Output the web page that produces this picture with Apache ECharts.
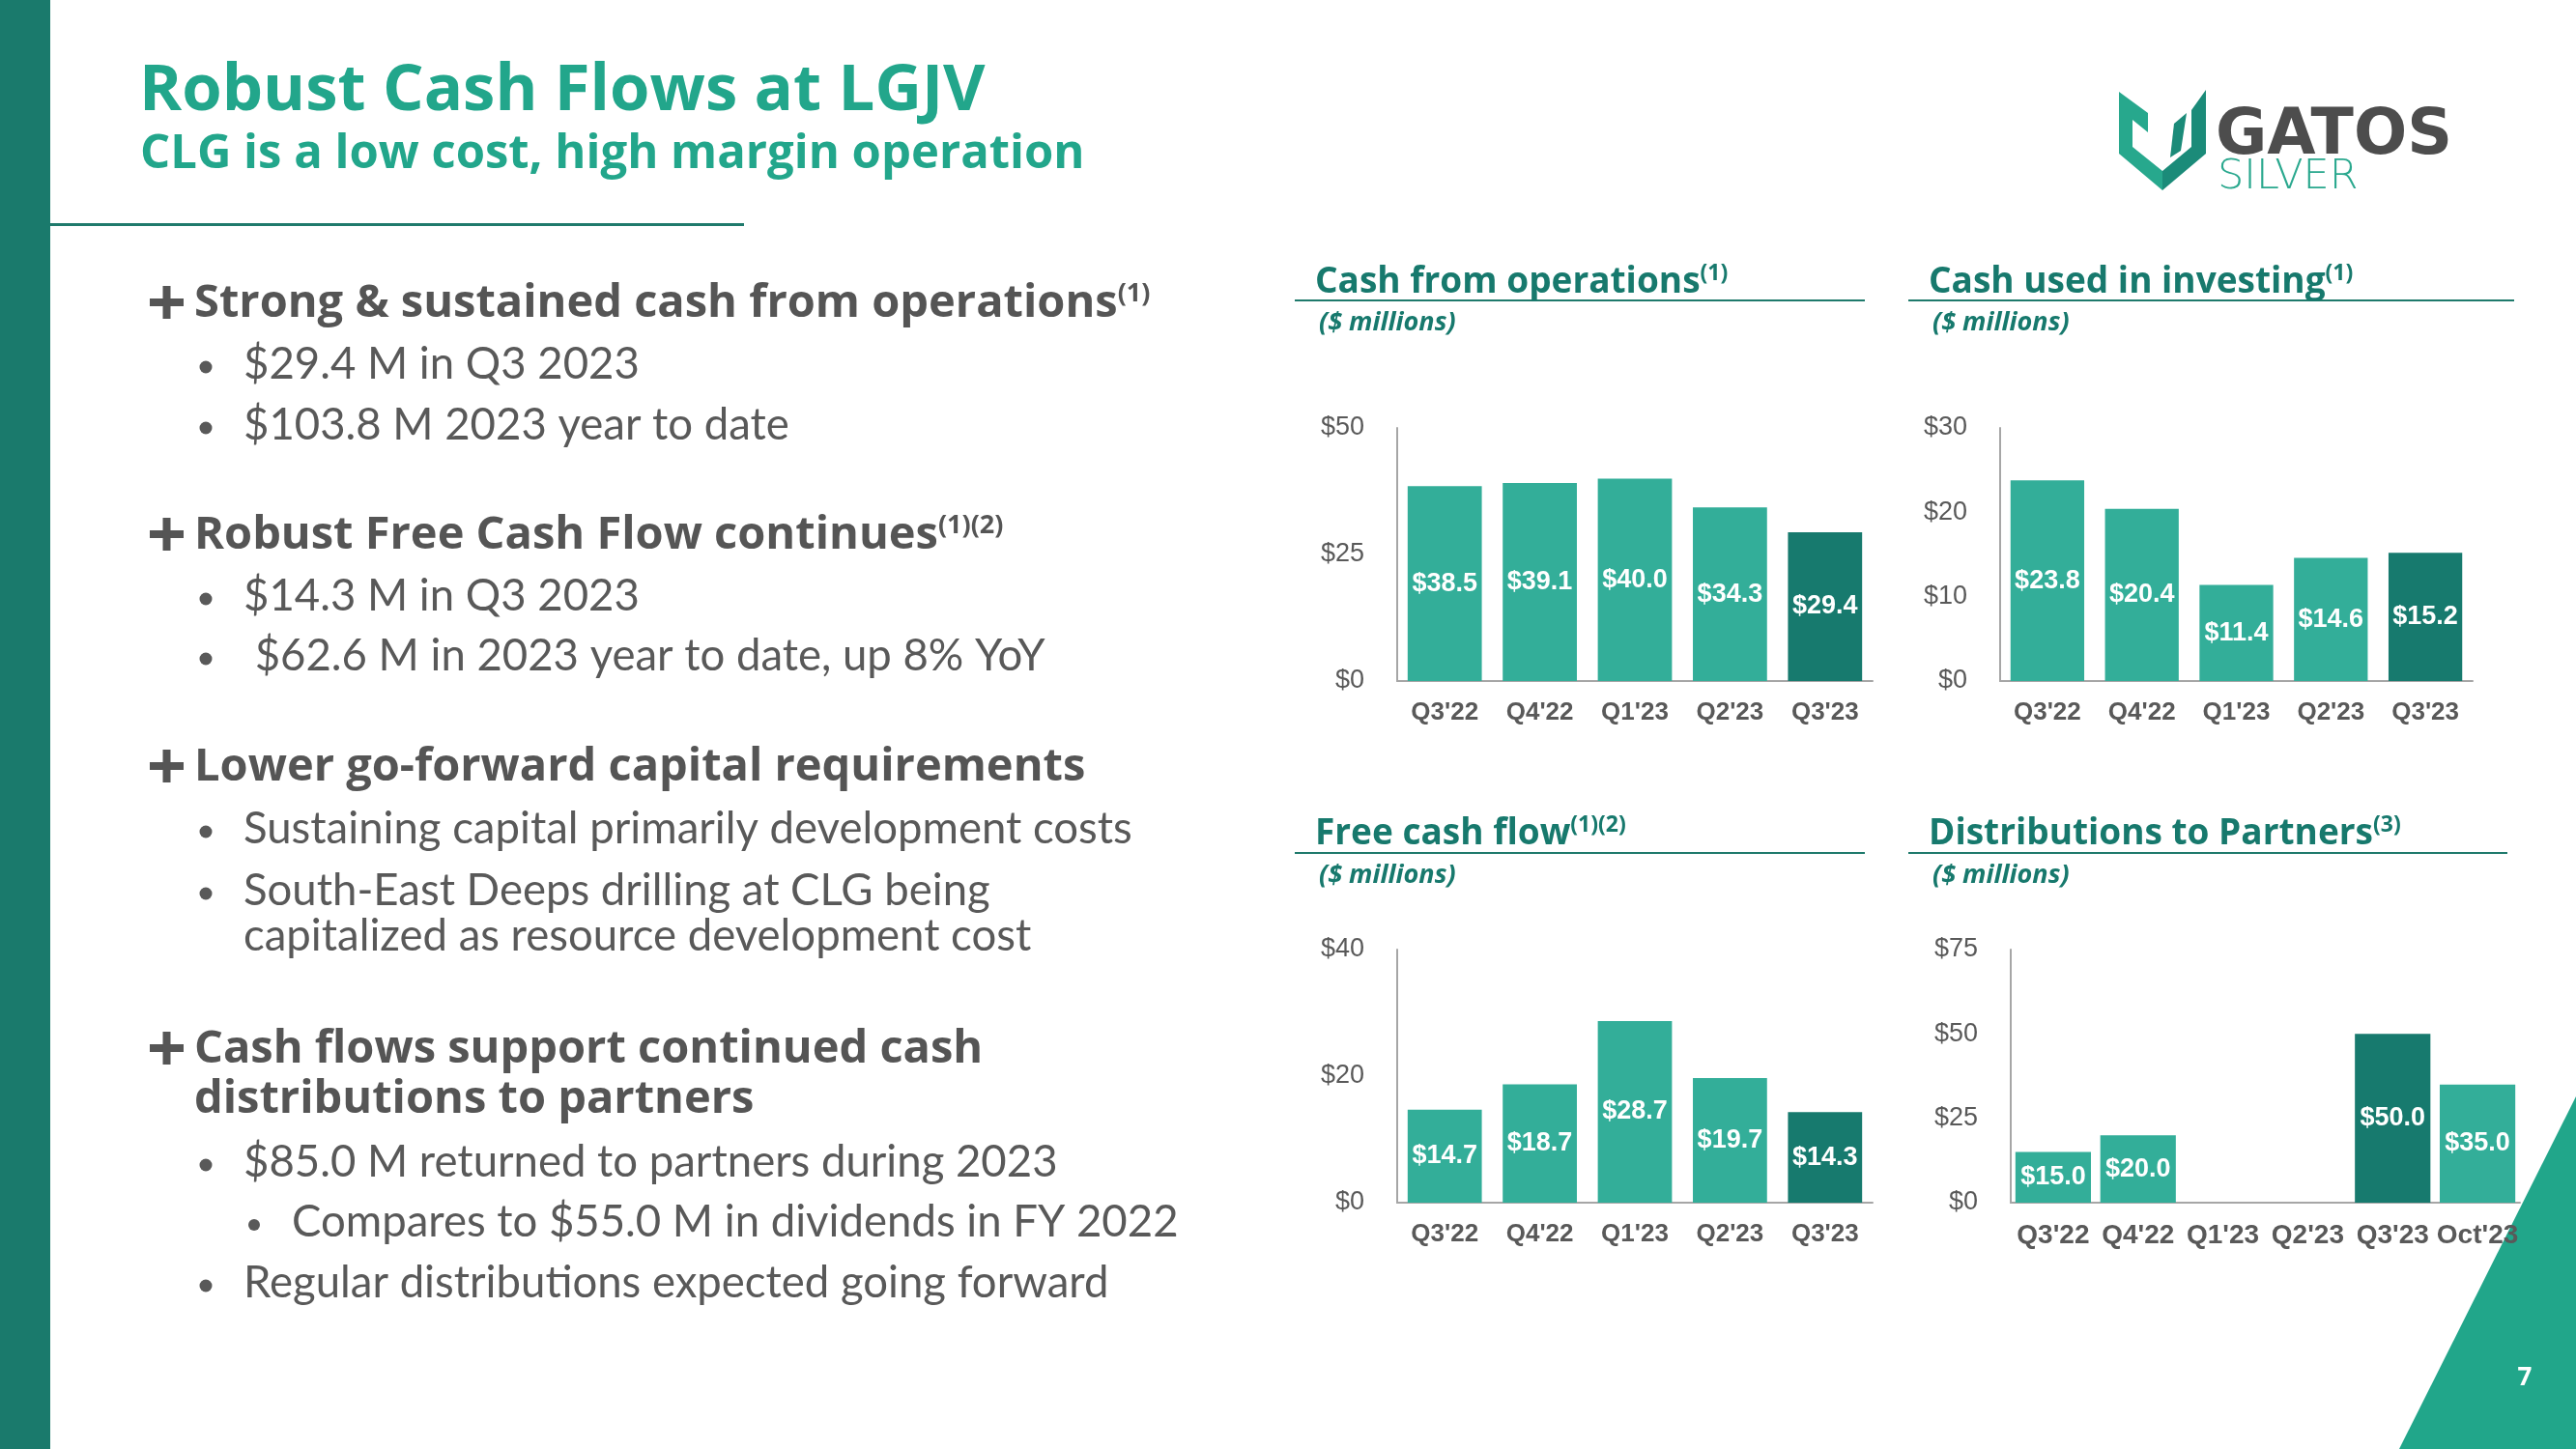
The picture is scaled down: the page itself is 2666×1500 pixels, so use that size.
<!DOCTYPE html>
<html><head><meta charset="utf-8">
<script src="https://cdn.jsdelivr.net/npm/echarts@6/dist/echarts.min.js"></script>
<style>html,body{margin:0;padding:0;background:#fff}#c{width:2666px;height:1500px}</style>
</head><body><div id="c"></div>
<script>
// ---------- DATA ----------
const quarters = ["Q3'22", "Q4'22", "Q1'23", "Q2'23", "Q3'23"];
const distCategories = ["Q3'22", "Q4'22", "Q1'23", "Q2'23", "Q3'23", "Oct'23"];
const cashFromOps = [38.5, 39.1, 40.0, 34.3, 29.4];
const cashUsedInvesting = [23.8, 20.4, 11.4, 14.6, 15.2];
const freeCashFlow = [14.7, 18.7, 28.7, 19.7, 14.3];
const distributionsToPartners = [15.0, 20.0, 0, 0, 50.0, 35.0];
const opsTicks = [0, 25, 50];
const investingTicks = [0, 10, 20, 30];
const fcfTicks = [0, 20, 40];
const distTicks = [0, 25, 50, 75];
const highlightCategory = "Q3'23";

const chartTitles = [
  ["Cash from operations", "(1)"],
  ["Cash used in investing", "(1)"],
  ["Free cash flow", "(1)(2)"],
  ["Distributions to Partners", "(3)"]
];
const unitsLabel = "($ millions)";
const slideTitle = "Robust Cash Flows at LGJV";
const slideSubtitle = "CLG is a low cost, high margin operation";
const bulletLines = [
  ["h", "Strong & sustained cash from operations", "(1)"],
  ["b", "$29.4 M in Q3 2023"],
  ["b", "$103.8 M 2023 year to date"],
  ["h", "Robust Free Cash Flow continues", "(1)(2)"],
  ["b", "$14.3 M in Q3 2023"],
  ["b", " $62.6 M in 2023 year to date, up 8% YoY"],
  ["h", "Lower go-forward capital requirements"],
  ["b", "Sustaining capital primarily development costs"],
  ["b", "South-East Deeps drilling at CLG being"],
  ["c", "capitalized as resource development cost"],
  ["h", "Cash flows support continued cash"],
  ["hc", "distributions to partners"],
  ["b", "$85.0 M returned to partners during 2023"],
  ["bb", "Compares to $55.0 M in dividends in FY 2022"],
  ["b", "Regular distributions expected going forward"]
];
const pageNumber = "7";

// ---------- LAYOUT / STYLE ----------
const LIGHT = '#33ae99', DARK = '#177a6e', TITLE_TEAL = '#22a68b', HEAD_TEAL = '#17796d';
const GREY = '#595959';
const panels = [
  { cats: quarters, values: cashFromOps, ticks: opsTicks, bw: '78%', xfs: 26 },
  { cats: quarters, values: cashUsedInvesting, ticks: investingTicks, bw: '78%', xfs: 26 },
  { cats: quarters, values: freeCashFlow, ticks: fcfTicks, bw: '78%', xfs: 26 },
  { cats: distCategories, values: distributionsToPartners, ticks: distTicks, bw: '89%', xfs: 28 }
];
const grids = [
  { left: 1446, top: 443, width: 492, height: 262 },
  { left: 2070, top: 443, width: 489, height: 262 },
  { left: 1446, top: 983, width: 492, height: 262 },
  { left: 2081, top: 983, width: 527, height: 262 }
];
const titlePos = [
  { x: 1361, y: 292, lineX: 1340, lineW: 590, lineY: 310, unitY: 334 },
  { x: 1996, y: 292, lineX: 1975, lineW: 627, lineY: 310, unitY: 334 },
  { x: 1361, y: 863, lineX: 1340, lineW: 590, lineY: 882, unitY: 906 },
  { x: 1996, y: 863, lineX: 1975, lineW: 620, lineY: 882, unitY: 906 }
];
const lineY = [315, 377, 440, 555, 617, 679, 795, 858, 922, 969, 1087, 1139, 1203, 1265, 1328];

const FONT = 'Lato, "Noto Sans", sans-serif';
const HFONT = '"Open Sans", "Noto Sans", sans-serif';
const els = [];
function T(x, y, text, font, fill, extra) {
  return Object.assign({ type: 'text', x: x, y: y, z: 10,
    style: { text: text, font: font, fill: fill, align: 'left', verticalAlign: 'middle', textAlign: 'left', textVerticalAlign: 'middle' } }, extra || {});
}
// left bar
els.push({ type: 'rect', z: 1, shape: { x: 0, y: 0, width: 52, height: 1500 }, style: { fill: '#1a7a6c' } });
// title
els.push(T(144, 95, slideTitle, 'bold 67px ' + HFONT, TITLE_TEAL));
els.push(T(145, 160, slideSubtitle, 'bold 49px ' + HFONT, TITLE_TEAL));
els.push({ type: 'rect', z: 1, shape: { x: 52, y: 231, width: 718, height: 3 }, style: { fill: '#1f7a6c' } });
// logo
els.push({ type: 'polygon', z: 5, shape: { points: [[2193,95],[2223,117],[2223,137],[2207,124],[2207,152],[2238,177],[2238,197],[2193,159]] }, style: { fill: '#27a88d' } });
els.push({ type: 'polygon', z: 5, shape: { points: [[2283,93],[2283,159],[2238,197],[2238,177],[2268,152],[2268,114]] }, style: { fill: '#1b8b79' } });
els.push({ type: 'polygon', z: 5, shape: { points: [[2263,117],[2250,128],[2246,163],[2257,156]] }, style: { fill: '#1b8b79' } });
els.push(T(2293, 142, 'GATOS', 'bold 65px "DejaVu Sans"', '#4d4d4d'));
els.push(T(2295, 184, 'SILVER', '200 43px "DejaVu Sans"', '#2aa88e'));

// bullets
bulletLines.forEach(function (ln, i) {
  const y = lineY[i], kind = ln[0];
  if (kind === 'h' || kind === 'hc') {
    if (kind === 'h') {
      els.push({ type: 'rect', z: 5, shape: { x: 155, y: y - 6, width: 35, height: 8 }, style: { fill: '#555' } });
      els.push({ type: 'rect', z: 5, shape: { x: 168.5, y: y - 19, width: 8, height: 34 }, style: { fill: '#555' } });
    }
    if (ln[2]) {
      els.push({ type: 'text', x: 201, y: y, z: 10, style: {
        text: '{a|' + ln[1] + '}{s|' + ln[2] + '}', align: 'left', verticalAlign: 'middle',
        rich: { a: { fontFamily: HFONT, fontWeight: 'bold', fontSize: 47, lineHeight: 49, fill: '#555', verticalAlign: 'middle' },
                s: { fontFamily: HFONT, fontWeight: 'bold', fontSize: 27, lineHeight: 27, fill: '#555', verticalAlign: 'top' } } } });
    } else {
      els.push(T(201, y, ln[1], 'bold 47px ' + HFONT, '#555'));
    }
  } else if (kind === 'b' || kind === 'c') {
    if (kind === 'b') els.push({ type: 'circle', z: 5, shape: { cx: 213, cy: y + 3, r: 6.5 }, style: { fill: GREY } });
    els.push(T(252, y, ln[1], '45.5px ' + FONT, GREY));
  } else if (kind === 'bb') {
    els.push({ type: 'circle', z: 5, shape: { cx: 263, cy: y + 3, r: 6 }, style: { fill: GREY } });
    els.push(T(302, y, ln[1], '45.5px ' + FONT, GREY));
  }
});

// chart headers
chartTitles.forEach(function (t, i) {
  const p = titlePos[i];
  els.push({ type: 'text', x: p.x, y: p.y, z: 10, style: {
    text: '{a|' + t[0] + '}{s|' + t[1] + '}', align: 'left', verticalAlign: 'middle',
    rich: { a: { fontFamily: HFONT, fontWeight: 'bold', fontSize: 37, lineHeight: 40, fill: HEAD_TEAL, verticalAlign: 'middle' },
            s: { fontFamily: HFONT, fontWeight: 'bold', fontSize: 23, lineHeight: 23, fill: HEAD_TEAL, verticalAlign: 'top' } } } });
  els.push({ type: 'rect', z: 5, shape: { x: p.lineX, y: p.lineY, width: p.lineW, height: 2 }, style: { fill: '#1f7a6c' } });
  els.push(T(p.x + 4, p.unitY, unitsLabel, 'italic bold 27px ' + HFONT, HEAD_TEAL));
});

// corner triangle + page number
els.push({ type: 'polygon', z: -10, shape: { points: [[2666,1135],[2483,1500],[2666,1500]] }, style: { fill: '#21a68a' } });
els.push({ type: 'text', x: 2613, y: 1427, z: 10, style: { text: pageNumber, font: 'bold 26px ' + HFONT, fill: '#ffffff', align: 'center', verticalAlign: 'middle' } });

const AXIS_FONT = '"Liberation Sans", Arial, sans-serif';
const option = {
  animation: false,
  backgroundColor: '#ffffff',
  grid: grids.map(g => Object.assign({ containLabel: false }, g)),
  xAxis: panels.map((p, i) => ({
    type: 'category', gridIndex: i, data: p.cats,
    axisLine: { lineStyle: { color: '#a6a6a6', width: 2 } },
    axisTick: { show: false },
    axisLabel: { interval: 0, margin: 20, color: GREY, fontFamily: AXIS_FONT, fontWeight: 'bold', fontSize: p.xfs }
  })),
  yAxis: panels.map((p, i) => ({
    type: 'value', gridIndex: i,
    min: p.ticks[0], max: p.ticks[p.ticks.length - 1], interval: p.ticks[1] - p.ticks[0],
    axisLine: { show: true, lineStyle: { color: '#a6a6a6', width: 2 } },
    axisTick: { show: false }, splitLine: { show: false },
    axisLabel: { margin: 34, color: GREY, fontFamily: AXIS_FONT, fontSize: 27, formatter: v => '$' + v }
  })),
  series: panels.map((p, i) => ({
    type: 'bar', xAxisIndex: i, yAxisIndex: i, barWidth: p.bw,
    data: p.values.map((v, j) => ({ value: v, itemStyle: { color: p.cats[j] === highlightCategory ? DARK : LIGHT } })),
    label: { show: true, position: 'inside', color: '#ffffff', fontFamily: AXIS_FONT, fontWeight: 'bold', fontSize: 27,
      formatter: q => q.value ? '$' + q.value.toFixed(1) : '' }
  })),
  graphic: { elements: els }
};
const chart = echarts.init(document.getElementById('c'), null, { renderer: 'canvas' });
chart.setOption(option);
</script></body></html>
